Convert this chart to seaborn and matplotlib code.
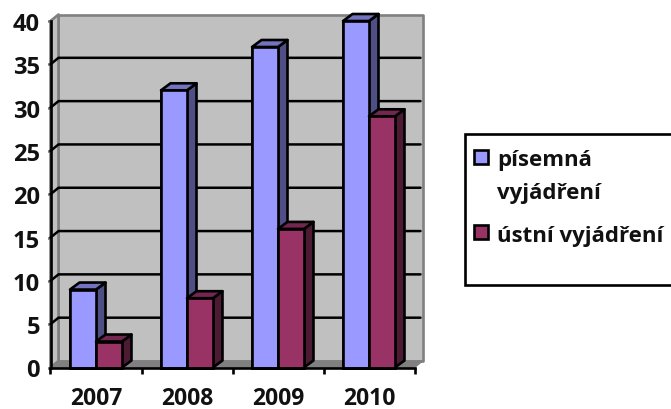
import matplotlib
matplotlib.use("Agg")
import matplotlib.pyplot as plt
import pandas as pd
import seaborn as sns
from matplotlib.patches import Polygon, Rectangle

years = ["2007", "2008", "2009", "2010"]
written = [9, 32, 37, 40]
oral = [3, 8, 16, 29]
series_names = ["písemná vyjádření", "ústní vyjádření"]
y_ticks = [0, 5, 10, 15, 20, 25, 30, 35, 40]

front_colors = ["#9999FF", "#993366"]
side_colors = ["#4F4F85", "#4D1A33"]
top_colors = ["#7373BF", "#732650"]
WALL = "#C0C0C0"
WALL_EDGE = "#808080"
W, H = 671, 410
LW = 1.9

sns.set_theme(style="white")
plt.rcParams["font.family"] = ["Open Sans", "DejaVu Sans"]
plt.rcParams["font.weight"] = "bold"

fig = plt.figure(figsize=(W / 100, H / 100), dpi=100, facecolor="white")
left, right, top, bottom = 50.5, 414.5, 22, 368.5
ax = fig.add_axes([left / W, 1 - bottom / H, (right - left) / W, (bottom - top) / H])

df = pd.DataFrame({
    "year": years * 2,
    "value": written + oral,
    "series": [series_names[0]] * 4 + [series_names[1]] * 4,
})
sns.barplot(data=df, x="year", y="value", hue="series", hue_order=series_names,
            palette=front_colors, width=0.571, gap=0, saturation=1, legend=False,
            edgecolor="black", linewidth=LW, ax=ax)

ax.set_xlim(-0.5, 3.5)
ax.set_ylim(0, 40)
px_x = 4 / (right - left)
px_y = 40 / (bottom - top)

# 3D depth of the chart box and of the bars, in data units
wall_dx, wall_dy = 8 * px_x, 6.5 * px_y
bar_dx, bar_dy = 9.5 * px_x, 7 * px_y
x0, x1 = -0.5, 3.5


def add_poly(points, face, edge="black", lw=LW, z=2):
    ax.add_patch(Polygon(points, closed=True, facecolor=face, edgecolor=edge,
                         linewidth=lw, joinstyle="round", zorder=z, clip_on=False))


# Back wall, side wall and floor
add_poly([(x0 + wall_dx, wall_dy), (x1 + wall_dx, wall_dy),
          (x1 + wall_dx, 40 + wall_dy), (x0 + wall_dx, 40 + wall_dy)],
         WALL, WALL_EDGE, LW, 0.5)
add_poly([(x0, 0), (x0 + wall_dx, wall_dy), (x0 + wall_dx, 40 + wall_dy), (x0, 40)],
         WALL, WALL_EDGE, LW, 0.6)
add_poly([(x0, 0), (x1, 0), (x1 + wall_dx, wall_dy), (x0 + wall_dx, wall_dy)],
         WALL_EDGE, WALL_EDGE, 1, 0.7)

# Gridlines run along the side wall and across the back wall
for v in y_ticks[1:-1]:
    ax.plot([x0, x0 + wall_dx, x1 + wall_dx - 2 * px_x],
            [v, v + wall_dy, v + wall_dy], color="black", lw=1.8,
            solid_joinstyle="miter", zorder=1, clip_on=False)

# Side and top faces of every bar
for i, bar in enumerate(ax.patches):
    if not isinstance(bar, Rectangle) or bar.get_height() == 0:
        continue
    s = 0 if i < len(years) else 1
    z = 2 + s
    bar.set_zorder(z)
    bar.set_clip_on(False)
    xa, xb, h = bar.get_x(), bar.get_x() + bar.get_width(), bar.get_height()
    add_poly([(xb, 0), (xb + bar_dx, bar_dy), (xb + bar_dx, h + bar_dy), (xb, h)],
             side_colors[s], z=z)
    add_poly([(xa, h), (xa + bar_dx, h + bar_dy), (xb + bar_dx, h + bar_dy), (xb, h)],
             top_colors[s], z=z)
    ax.add_patch(Rectangle((xa, 0), xb - xa, h, facecolor=front_colors[s],
                           edgecolor="black", linewidth=LW, zorder=z + 0.1, clip_on=False))

# Axes and ticks
for name in ("top", "right"):
    ax.spines[name].set_visible(False)
for name in ("left", "bottom"):
    ax.spines[name].set_visible(True)
    ax.spines[name].set_color("black")
    ax.spines[name].set_linewidth(LW)
    ax.spines[name].set_zorder(6)
ax.set_facecolor("none")
ax.set_xlabel("")
ax.set_ylabel("")
ax.set_yticks(y_ticks)
ax.set_xticks(range(len(years)), years)
ax.set_xticks([-0.5, 0.5, 1.5, 2.5, 3.5], minor=True)
ax.tick_params(axis="y", which="major", left=True, length=2.5, width=LW, color="black",
               labelsize=17, pad=5, labelcolor="#111111")
ax.tick_params(axis="x", which="major", bottom=False, length=0, labelsize=16.5, pad=13,
               labelcolor="#111111")
ax.tick_params(axis="x", which="minor", bottom=True, length=4.5, width=LW, color="black")

# Legend panel, running off the right edge of the figure
fig.add_artist(Rectangle((464.5 / W, 1 - 286 / H), 230 / W, 151 / H,
                         transform=fig.transFigure, facecolor="white",
                         edgecolor="black", linewidth=LW))
entries = [(158, 161, ["písemná", "vyjádření"], 0), (233, 237, ["ústní vyjádření"], 1)]
for swatch_y, text_y, lines, s in entries:
    fig.add_artist(Rectangle((474 / W, 1 - (swatch_y + 7) / H), 14 / W, 14 / H,
                             transform=fig.transFigure, facecolor=front_colors[s],
                             edgecolor="black", linewidth=LW))
    for k, line in enumerate(lines):
        fig.text(497 / W, 1 - (text_y + k * 33) / H, line, fontsize=16, fontweight="bold",
                 color="#111111", va="center", ha="left")

fig.savefig("out.png", dpi=100)
